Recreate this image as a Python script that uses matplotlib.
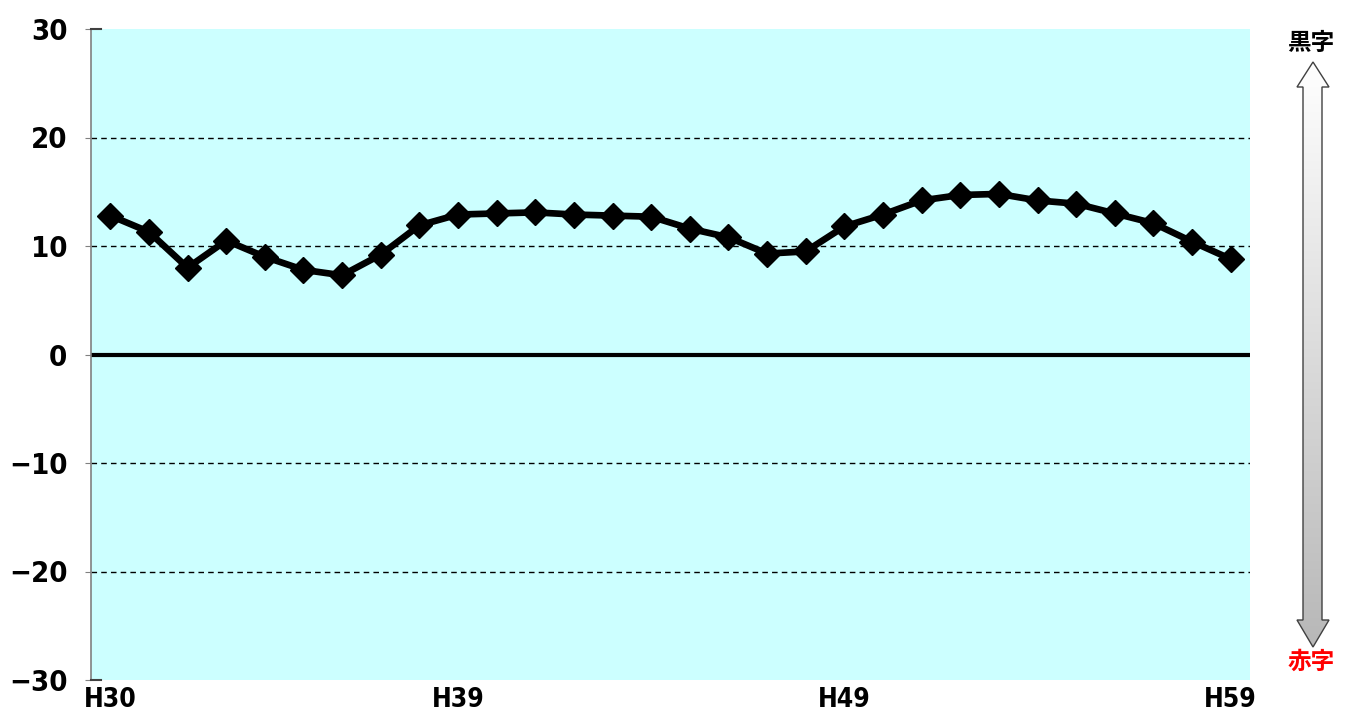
import matplotlib
matplotlib.use("Agg")
import matplotlib.pyplot as plt
import numpy as np
from matplotlib.patches import Polygon

# ---------------------------------------------------------------------------
# Data
# ---------------------------------------------------------------------------
years = [f"H{y}" for y in range(30, 60)]
values = [12.8, 11.3, 8.0, 10.5, 9.0, 7.8, 7.3, 9.2, 11.9, 12.9,
          13.0, 13.1, 12.9, 12.8, 12.7, 11.6, 10.8, 9.3, 9.5, 11.8,
          12.9, 14.2, 14.7, 14.8, 14.2, 13.9, 13.0, 12.1, 10.4, 8.8]
shown_labels = {"H30", "H39", "H49", "H59"}
yticks = [-30, -20, -10, 0, 10, 20, 30]

num_font = ["DejaVu Sans"]
jp_font = ["Noto Sans CJK JP", "DejaVu Sans"]

fig = plt.figure(figsize=(13.51, 7.15), dpi=100)
ax = fig.add_axes([91 / 1351, 1 - 680 / 715, (1250 - 91) / 1351, (680 - 29) / 715])
ax.set_facecolor("#CCFFFF")

x = np.arange(len(years))
ax.plot(x, values, color="black", lw=4.8, marker="D", ms=13, zorder=4)

ax.set_xlim(-0.5, len(years) - 0.5)
ax.set_ylim(-30, 30)

# grid & zero line
for v in [-20, -10, 10, 20]:
    ax.axhline(v, color="black", lw=1, ls=(0, (4, 3)), zorder=1)
ax.axhline(0, color="black", lw=3, zorder=2)

# short inward marks at the top and bottom of the value axis
for v in [-30, 30]:
    ax.plot([-0.5, -0.25], [v, v], color="#404040", lw=1.5, clip_on=False, zorder=3)

for s in ["top", "right", "bottom"]:
    ax.spines[s].set_visible(False)
ax.spines["left"].set_color("#808080")
ax.spines["left"].set_linewidth(1.2)

ax.set_yticks(yticks)
ax.set_yticklabels([str(v).replace("-", "\u2212") for v in yticks],
                   fontsize=21, family=num_font, fontstretch="condensed",
                   fontweight="semibold")
ax.tick_params(axis="y", length=4, color="#808080", pad=13)

ax.set_xticks(x)
ax.set_xticklabels([y if y in shown_labels else "" for y in years],
                   fontsize=19, family=num_font, fontstretch="condensed",
                   fontweight="semibold")
ax.tick_params(axis="x", length=0, pad=5)

# ---------------------------------------------------------------------------
# Right-side double arrow with gradient
# ---------------------------------------------------------------------------
W, H = 1351, 715
def fx(px): return px / W
def fy(py): return 1 - py / H

sx0, sx1 = 1303, 1322
hx0, hx1 = 1297, 1329
cx = (hx0 + hx1) / 2
top_tip, top_base = 62, 87
bot_base, bot_tip = 620, 647
pts = [(cx, top_tip), (hx1, top_base), (sx1, top_base), (sx1, bot_base),
       (hx1, bot_base), (cx, bot_tip), (hx0, bot_base), (sx0, bot_base),
       (sx0, top_base), (hx0, top_base)]
poly = Polygon([(fx(a), fy(b)) for a, b in pts], closed=True,
               transform=fig.transFigure, facecolor="none",
               edgecolor="#404040", lw=1.0, zorder=5)
fig.add_artist(poly)

grad_ax = fig.add_axes([fx(hx0), fy(bot_tip), fx(hx1) - fx(hx0), fy(top_tip) - fy(bot_tip)])
grad_ax.axis("off")
grad = np.linspace(1.0, 0.72, 256).reshape(-1, 1)
im = grad_ax.imshow(np.dstack([grad, grad, grad]), aspect="auto",
                    extent=[0, 1, 0, 1], origin="upper")
clip = Polygon([(fx(a), fy(b)) for a, b in pts], closed=True,
               transform=fig.transFigure)
im.set_clip_path(clip)

fig.text(fx(1311), fy(43), "黒字", ha="center", va="center",
         fontsize=17, fontweight="bold", family=jp_font, color="black")
fig.text(fx(1311), fy(662), "赤字", ha="center", va="center",
         fontsize=17, fontweight="bold", family=jp_font, color="red")

fig.savefig("out.png", dpi=100)
